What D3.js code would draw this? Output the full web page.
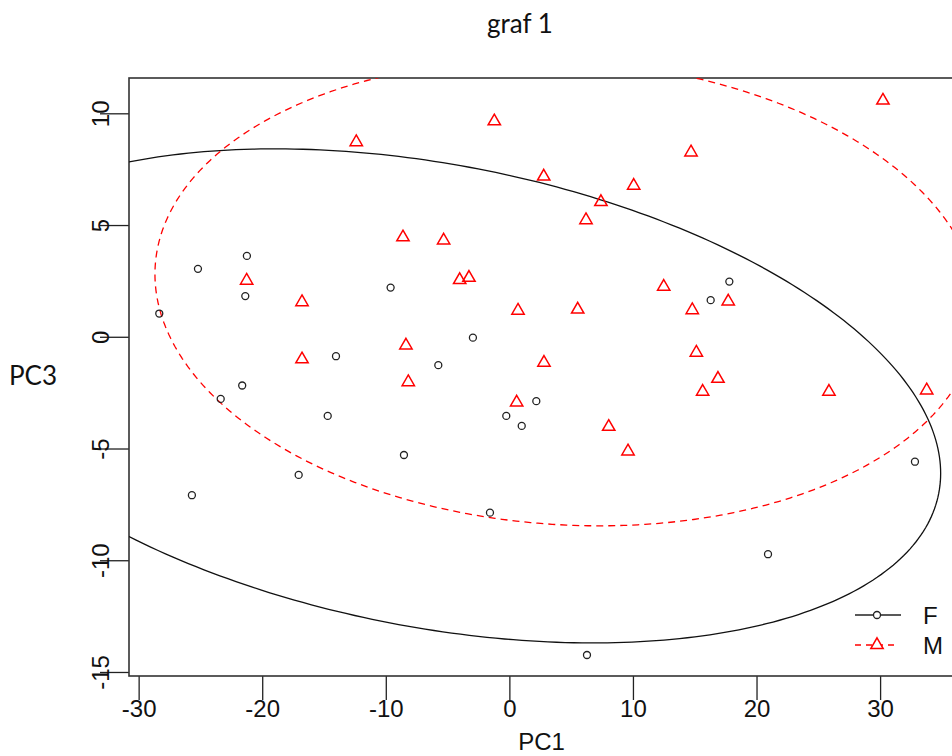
<!DOCTYPE html>
<html>
<head>
<meta charset="utf-8">
<script src="https://cdn.jsdelivr.net/npm/d3@7"></script>
<style>
  body { margin: 0; background: #fff; }
</style>
</head>
<body>
<div id="chart"></div>
<script>
// Dades: grup F (cercles) i grup M (triangles)
const fPC1 = [-25.2, -21.24, -21.37, -28.33, -9.61, -2.95, -14.03, -5.75, -21.62, -23.36, -14.7, -0.25,
    2.18, 1.0, -8.53, -25.69, -17.05, -1.57, 16.29, 17.8, 32.82, 20.93, 6.28];
const fPC3 = [3.04, 3.62, 1.82, 1.04, 2.2, -0.04, -0.87, -1.27, -2.18, -2.78, -3.54, -3.54,
    -2.88, -3.99, -5.29, -7.09, -6.18, -7.87, 1.64, 2.47, -5.59, -9.73, -14.24];

const mPC1 = [-1.22, -12.39, 2.78, 10.06, 7.41, 6.2, -8.61, -5.32, -4.02, -3.27, -16.78, -21.26, 0.7,
    5.53, -8.37, -16.78, 2.8, -8.18, 0.59, 8.04, 9.6, 30.23, 14.7, 12.49, 17.71, 14.8, 15.13,
    16.88, 15.64, 25.86, 33.77];
const mPC3 = [9.71, 8.78, 7.24, 6.83, 6.1, 5.29, 4.52, 4.38, 2.61, 2.71, 1.62, 2.58, 1.24,
    1.29, -0.32, -0.94, -1.09, -1.96, -2.87, -3.96, -5.06, 10.64, 8.32, 2.31, 1.65, 1.26, -0.64,
    -1.81, -2.39, -2.39, -2.33];

// El·lipses: [centre x, centre y, semieix x, semieix y, covariància]
const ellF = [-6.1, -2.645, 41.0, 11.055, -142];
const ellM = [4.62, 1.97, 33.3, 10.43, -27.84];

const xTicks = [-30, -20, -10, 0, 10, 20, 30];
const yTicks = [-15, -10, -5, 0, 5, 10];
const groups = ["F", "M"];

const W = 952, H = 756;
const margin = { top: 78, right: -2, bottom: 80, left: 129 };

const svg = d3.select("#chart").append("svg")
    .attr("width", W)
    .attr("height", H);

const x = d3.scaleLinear().domain([-30.78, 35.98]).range([margin.left, W - margin.right]);
const y = d3.scaleLinear().domain([-15.18, 11.58]).range([H - margin.bottom, margin.top]);

// Retall per a l'àrea del gràfic
svg.append("clipPath").attr("id", "plotclip")
    .append("rect")
    .attr("x", x.range()[0]).attr("y", y.range()[1])
    .attr("width", x.range()[1] - x.range()[0])
    .attr("height", y.range()[0] - y.range()[1]);

// Títol i etiquetes
svg.append("text")
    .attr("x", 520).attr("y", 33)
    .attr("text-anchor", "middle")
    .attr("font-family", "Lato, 'Open Sans', sans-serif")
    .attr("font-size", "26px")
    .attr("fill", "#111")
    .text("graf 1");

svg.append("text")
    .attr("x", 33).attr("y", 385)
    .attr("text-anchor", "middle")
    .attr("font-family", "Lato, 'Open Sans', sans-serif")
    .attr("font-size", "26px")
    .attr("fill", "#111")
    .text("PC3");

svg.append("text")
    .attr("x", (x.range()[0] + x.range()[1]) / 2).attr("y", 750)
    .attr("text-anchor", "middle")
    .attr("font-family", "'Liberation Sans', Arial, sans-serif")
    .attr("font-size", "24px")
    .attr("fill", "#111")
    .text("PC1");

// Eixos
const xAxis = svg.append("g")
    .attr("transform", `translate(0,${y.range()[0]})`)
    .call(d3.axisBottom(x).tickValues(xTicks).tickSize(24).tickPadding(0).tickFormat(d => String(d)));
xAxis.select(".domain").remove();
xAxis.selectAll("line").attr("stroke", "#222").attr("stroke-width", 1.3);
xAxis.selectAll("text")
    .attr("font-family", "'Liberation Sans', Arial, sans-serif")
    .attr("font-size", "24px")
    .attr("fill", "#111");

const yAxis = svg.append("g")
    .attr("transform", `translate(${x.range()[0]},0)`)
    .call(d3.axisLeft(y).tickValues(yTicks).tickSize(29).tickFormat(d => String(d)));
yAxis.select(".domain").remove();
yAxis.selectAll("line").attr("stroke", "#222").attr("stroke-width", 1.3);
yAxis.selectAll("text")
    .attr("transform", "rotate(-90)")
    .attr("x", 0)
    .attr("y", -20.5)
    .attr("dy", null)
    .attr("text-anchor", "middle")
    .attr("font-family", "'Liberation Sans', Arial, sans-serif")
    .attr("font-size", "24px")
    .attr("fill", "#111");

// Marc del gràfic
svg.append("rect")
    .attr("x", x.range()[0]).attr("y", y.range()[1])
    .attr("width", x.range()[1] - x.range()[0])
    .attr("height", y.range()[0] - y.range()[1])
    .attr("fill", "none")
    .attr("stroke", "#333")
    .attr("stroke-width", 1.6);

// El·lipses
function ellipsePoints(e) {
    const [cx, cy, rx, ry, cov] = e;
    const a2 = cov / rx;
    const b2 = Math.sqrt(ry * ry - a2 * a2);
    return d3.range(0, 361).map(i => {
        const t = i * Math.PI / 180;
        return [cx + rx * Math.cos(t), cy + a2 * Math.cos(t) + b2 * Math.sin(t)];
    });
}
const line = d3.line().x(d => x(d[0])).y(d => y(d[1]));

const plot = svg.append("g").attr("clip-path", "url(#plotclip)");

plot.append("path")
    .attr("d", line(ellipsePoints(ellF)))
    .attr("fill", "none")
    .attr("stroke", "#111")
    .attr("stroke-width", 1.3);

plot.append("path")
    .attr("d", line(ellipsePoints(ellM)))
    .attr("fill", "none")
    .attr("stroke", "#ff0000")
    .attr("stroke-width", 1.3)
    .attr("stroke-dasharray", "7,5");

// Punts
const fData = fPC1.map((v, i) => ({ pc1: v, pc3: fPC3[i] }));
const mData = mPC1.map((v, i) => ({ pc1: v, pc3: mPC3[i] }));

plot.selectAll(".f")
    .data(fData)
    .enter()
    .append("circle")
    .attr("class", "f")
    .attr("cx", d => x(d.pc1))
    .attr("cy", d => y(d.pc3))
    .attr("r", 3.5)
    .attr("fill", "none")
    .attr("stroke", "#222")
    .attr("stroke-width", 1.3);

const tri = d3.symbol().type(d3.symbolTriangle).size(66);
plot.selectAll(".m")
    .data(mData)
    .enter()
    .append("path")
    .attr("class", "m")
    .attr("d", tri)
    .attr("transform", d => `translate(${x(d.pc1)},${y(d.pc3) + 1.5})`)
    .attr("fill", "none")
    .attr("stroke", "#ff0000")
    .attr("stroke-width", 1.5);

// Llegenda
const legX = x.range()[1] - 99, legY = y.range()[0] - 61;
const legend = svg.append("g").attr("transform", `translate(${legX},${legY})`);
groups.forEach((g, i) => {
    const row = legend.append("g").attr("transform", `translate(0,${i * 30})`);
    row.append("line")
        .attr("x1", 0).attr("x2", g === "F" ? 46 : 42)
        .attr("y1", 0).attr("y2", 0)
        .attr("stroke", g === "F" ? "#222" : "#ff0000")
        .attr("stroke-width", 1.3)
        .attr("stroke-dasharray", g === "F" ? null : "6,5");
    if (g === "F") {
        row.append("circle").attr("cx", 22).attr("cy", 0).attr("r", 3.5)
            .attr("fill", "#fff").attr("stroke", "#222").attr("stroke-width", 1.3);
    } else {
        row.append("path").attr("d", tri).attr("transform", "translate(22,0)")
            .attr("fill", "#fff").attr("stroke", "#ff0000").attr("stroke-width", 1.5);
    }
    row.append("text")
        .attr("x", 68).attr("y", 9)
        .attr("font-family", "'Liberation Sans', Arial, sans-serif")
        .attr("font-size", "24px")
        .attr("fill", "#111")
        .text(g);
});
</script>
</body>
</html>
